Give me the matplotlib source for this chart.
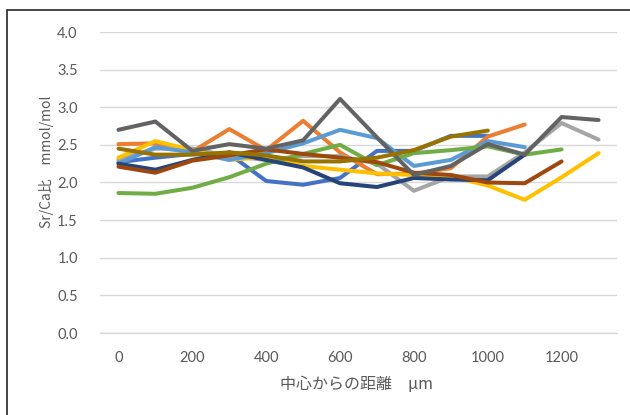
import matplotlib.pyplot as plt
import numpy as np
from matplotlib.patches import Rectangle

nan = np.nan

distance = [0, 100, 200, 300, 400, 500, 600, 700, 800, 900, 1000, 1100, 1200, 1300]
tick_labels = ["0", "200", "400", "600", "800", "1000", "1200"]

s_blue = [2.27, 2.33, 2.38, 2.38, 2.02, 1.97, 2.06, 2.42, 2.42, 2.62, 2.62, nan, nan, nan]
s_orange = [2.51, 2.52, 2.41, 2.71, 2.43, 2.82, 2.40, 2.11, 2.12, 2.19, 2.61, 2.77, nan, nan]
s_gray = [2.30, 2.45, 2.45, 2.35, 2.30, 2.35, 2.35, 2.25, 1.89, 2.08, 2.08, 2.40, 2.79, 2.57]
s_yellow = [2.33, 2.55, 2.43, 2.30, 2.34, 2.22, 2.17, 2.12, 2.10, 2.08, 1.96, 1.77, 2.07, 2.39]
s_lightblue = [2.25, 2.47, 2.40, 2.30, 2.39, 2.52, 2.70, 2.59, 2.22, 2.30, 2.55, 2.47, nan, nan]
s_green = [1.86, 1.85, 1.93, 2.07, 2.25, 2.38, 2.50, 2.23, 2.39, 2.43, 2.48, 2.37, 2.44, nan]
s_darkblue = [2.25, 2.17, 2.30, 2.40, 2.30, 2.20, 1.99, 1.94, 2.06, 2.04, 2.03, 2.37, nan, nan]
s_brown = [2.21, 2.13, 2.29, 2.36, 2.44, 2.38, 2.33, 2.27, 2.13, 2.10, 2.00, 1.99, 2.28, nan]
s_darkgray = [2.70, 2.81, 2.42, 2.51, 2.45, 2.56, 3.11, 2.60, 2.10, 2.22, 2.51, 2.37, 2.87, 2.83]
s_olive = [2.45, 2.37, 2.37, 2.40, 2.36, 2.28, 2.28, 2.33, 2.43, 2.61, 2.69, nan, nan, nan]

series = [
    (s_blue, "#4472C4"),
    (s_orange, "#ED7D31"),
    (s_gray, "#A5A5A5"),
    (s_yellow, "#FFC000"),
    (s_lightblue, "#5B9BD5"),
    (s_green, "#70AD47"),
    (s_darkblue, "#264478"),
    (s_brown, "#9E480E"),
    (s_darkgray, "#636363"),
    (s_olive, "#997300"),
]

text_color = "#595959"
jp_font = ["Noto Sans CJK JP", "DejaVu Sans"]

fig = plt.figure(figsize=(6.3, 4.15), dpi=100)
ax = fig.add_axes([100 / 630, 82 / 415, 517 / 630, 301 / 415])

x = np.arange(len(distance))
for values, color in series:
    ax.plot(x, values, color=color, lw=2.9, solid_joinstyle="round",
            solid_capstyle="round")

ax.set_xlim(-0.5, len(distance) - 0.5)
ax.set_ylim(0, 4.0)
ax.set_yticks(np.arange(0, 4.01, 0.5))
ax.set_yticklabels([f"{v:.1f}" for v in np.arange(0, 4.01, 0.5)])
ax.set_xticks(x[::2])
ax.set_xticklabels(tick_labels)

ax.grid(axis="y", color="#D9D9D9", lw=1.0)
ax.set_axisbelow(True)
for side in ["top", "right", "left"]:
    ax.spines[side].set_visible(False)
ax.spines["bottom"].set_color("#D9D9D9")
ax.spines["bottom"].set_linewidth(1.0)
ax.tick_params(length=0, labelsize=10.5, labelcolor=text_color, pad=13)
ax.tick_params(axis="y", pad=16)
for lab in ax.get_xticklabels() + ax.get_yticklabels():
    lab.set_family("Lato")

fig.text(357 / 630, 1 - 384 / 415, "中心からの距離　µm", ha="center", va="center",
         fontsize=11.5, color=text_color, family=jp_font)
fig.text(47 / 630, 1 - 162 / 415, "Sr/Ca比　mmol/mol", ha="center", va="center",
         rotation=90, fontsize=10, color=text_color, family=jp_font)

# outer chart frame, cut off at the right and bottom
fig.patches.append(Rectangle((7 / 630, -0.1), 1.2, 1 - 10 / 415 + 0.1,
                             transform=fig.transFigure, fill=False,
                             edgecolor="#262626", lw=1.2))

fig.savefig("out.png", dpi=100)
